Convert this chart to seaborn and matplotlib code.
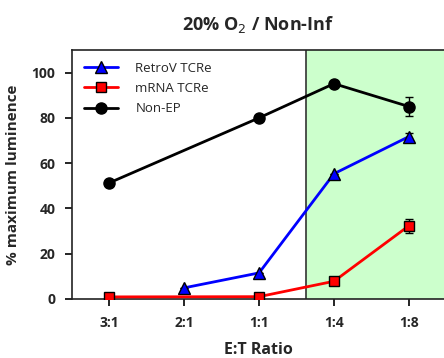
import numpy as np
import pandas as pd
import seaborn as sns
import matplotlib.pyplot as plt

ratios = ["3:1", "2:1", "1:1", "1:4", "1:8"]
retrov = [np.nan, 4.9, 11.5, 55.3, 71.7]
retrov_err = [0, 0, 0, 0, 1.5]
mrna = [0.9, np.nan, 1.0, 7.8, 32.3]
mrna_err = [0, 0, 0, 0, 3.0]
non_ep = [51.3, np.nan, 80.0, 95.1, 85.0]
non_ep_err = [0, 0, 0, 0, 4.3]

series = [
    ("RetroV TCRe", retrov, retrov_err, "#0000FF", "^", 8.5),
    ("mRNA TCRe", mrna, mrna_err, "#FF0000", "s", 7.5),
    ("Non-EP", non_ep, non_ep_err, "#000000", "o", 8),
]

sns.set_style("ticks")
plt.rcParams["font.family"] = ["Open Sans", "DejaVu Sans"]

fig = plt.figure(figsize=(4.44, 3.58), dpi=100)
ax = fig.add_axes([0.162, 0.165, 0.838, 0.6955])

pos = np.arange(len(ratios))
# shaded region for the low E:T ratios
ax.axvspan(2.63, 5, color="#CCFFCC", zorder=0)
ax.axvline(2.63, color="#333333", lw=1.2, zorder=1)

for name, vals, errs, col, mk, ms in series:
    df = pd.DataFrame({"x": pos, "y": vals, "e": errs}).dropna()
    sns.lineplot(data=df, x="x", y="y", ax=ax, color=col, lw=2, marker=mk,
                 markersize=ms, markeredgecolor="black", markeredgewidth=1,
                 label=name, zorder=3)
    ax.errorbar(df["x"], df["y"], yerr=df["e"], fmt="none", ecolor="black",
                elinewidth=1, capsize=3, zorder=2)

ax.set_xlim(-0.5, 4.47)
ax.set_ylim(0, 110)
ax.set_xticks(pos)
ax.set_xticklabels(ratios, fontweight="bold", fontsize=10)
ax.set_yticks([0, 20, 40, 60, 80, 100])
ax.set_yticklabels([0, 20, 40, 60, 80, 100], fontweight="bold", fontsize=10)
ax.tick_params(direction="out", length=5, width=1.2, color="black", pad=7)

for s in ["left", "bottom", "top"]:
    ax.spines[s].set_linewidth(1.2)
    ax.spines[s].set_color("#222222")
ax.spines["right"].set_visible(False)

ax.set_xlabel("E:T Ratio", fontweight="bold", fontsize=11.5, labelpad=9)
ax.set_ylabel("% maximum luminence", fontweight="bold", fontsize=11, labelpad=8)
ax.set_title("20% O$_2$ / Non-Inf", fontweight="bold", fontsize=13, pad=14)

ax.legend(loc="upper left", frameon=False, fontsize=9.5, handlelength=2.6,
          labelspacing=0.55, borderaxespad=0.5, handletextpad=1.3)

fig.savefig("out.png", dpi=100)
